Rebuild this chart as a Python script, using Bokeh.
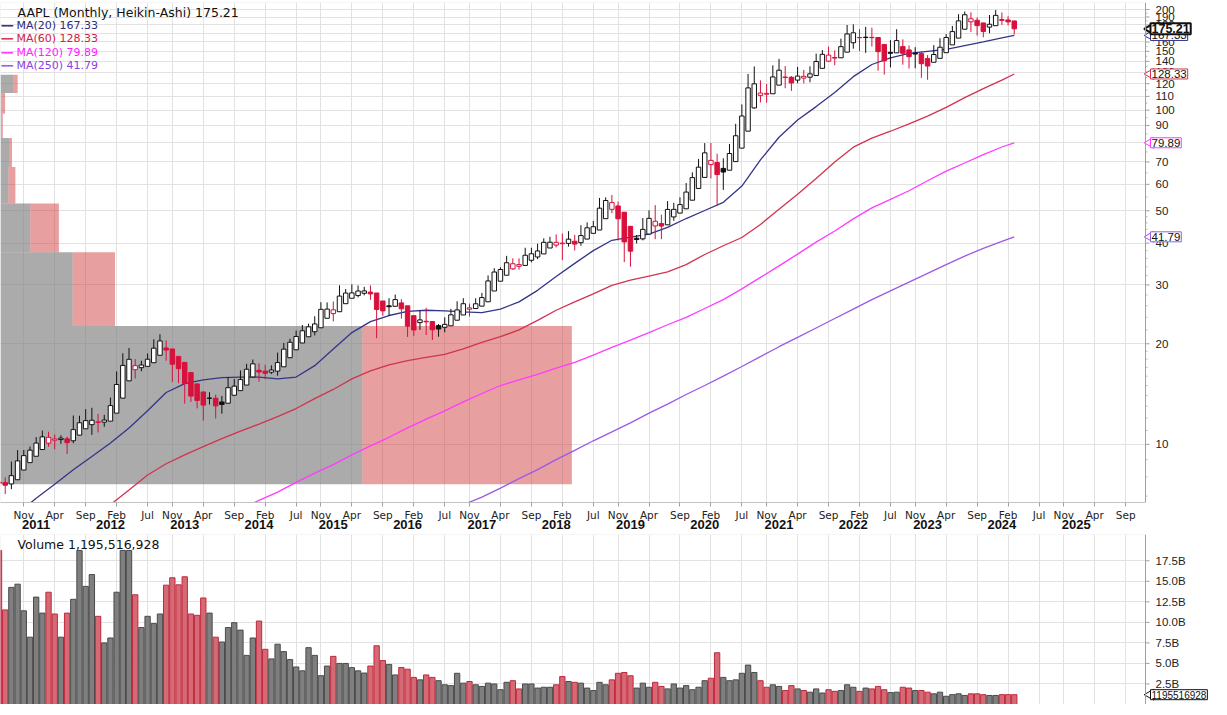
import numpy as np
import pandas as pd
from bokeh.plotting import figure
from bokeh.models import Range1d, FixedTicker, LinearAxis, Label, Span, BoxAnnotation
from bokeh.layouts import column
from bokeh.embed import file_html
from bokeh.resources import INLINE
from bokeh.core.properties import value

# ---------------- data (monthly, split-adjusted, Jul 2010 .. Mar 2024) ----------------
first_month = "2010-07"
last_month = "2024-03"

open_ = [
    9.08, 9.22, 8.84, 10.22, 10.79, 11.20,
    11.63, 12.19, 12.70, 12.54, 12.54, 12.36, 12.11, 14.21, 13.85, 13.59, 14.19, 13.66,
    14.62, 16.37, 19.58, 21.49, 20.89, 20.33, 20.88, 22.00, 23.78, 23.97, 21.25, 20.96,
    19.78, 16.40, 15.64, 15.78, 15.88, 16.11, 14.38, 16.28, 17.61, 17.09, 18.72, 19.93,
    19.85, 17.95, 18.69, 19.21, 21.14, 22.68, 23.38, 23.73, 25.72, 25.21, 27.14, 29.70,
    27.85, 29.51, 32.31, 31.21, 31.53, 32.70, 31.73, 30.38, 27.54, 27.27, 29.97, 29.69,
    25.65, 24.41, 24.41, 27.20, 23.49, 24.76, 23.87, 26.10, 26.54, 28.18, 28.37, 27.60,
    28.95, 32.00, 34.47, 35.93, 36.28, 38.29, 36.22, 37.28, 41.20, 38.54, 42.47, 42.49,
    42.54, 41.79, 44.63, 41.66, 41.60, 46.99, 45.96, 49.78, 57.10, 56.99, 54.76, 46.12,
    38.72, 41.74, 43.57, 47.91, 52.47, 43.90, 50.79, 53.47, 51.61, 56.27, 62.39, 66.82,
    74.06, 76.07, 70.57, 61.63, 71.56, 79.44, 91.28, 108.20, 132.76, 117.64, 109.11, 121.01,
    133.52, 133.75, 123.75, 123.66, 132.04, 124.28, 136.60, 146.36, 152.83, 141.90, 148.99, 167.48,
    177.83, 174.01, 164.70, 174.03, 156.71, 149.90, 136.04, 161.01, 156.64, 138.21, 155.08, 148.21,
    130.28, 143.97, 146.83, 164.27, 169.28, 177.70, 193.78, 196.24, 189.49, 171.22, 171.00, 190.33,
    187.15, 183.99, 179.55,
]
high = [
    9.46, 9.44, 10.52, 11.39, 11.39, 11.67,
    12.45, 13.03, 12.92, 12.68, 12.61, 12.49, 14.45, 14.43, 15.10, 15.24, 14.61, 14.52,
    16.36, 19.58, 22.19, 23.00, 21.31, 21.07, 22.14, 24.32, 25.18, 24.14, 21.39, 21.24,
    19.82, 17.32, 16.78, 15.86, 16.61, 16.33, 16.18, 18.31, 18.07, 19.17, 19.94, 20.54,
    20.01, 19.69, 19.61, 21.41, 22.75, 23.43, 24.79, 25.62, 25.86, 27.20, 29.85, 29.81,
    30.00, 33.40, 32.57, 33.63, 33.24, 32.91, 33.24, 30.64, 29.13, 30.31, 30.95, 29.97,
    26.46, 24.72, 27.61, 28.10, 25.18, 24.97, 26.14, 27.56, 29.05, 29.67, 28.44, 29.50,
    30.61, 34.37, 36.13, 36.37, 39.16, 38.50, 38.50, 41.24, 41.24, 42.41, 43.84, 44.30,
    45.03, 45.15, 45.88, 44.73, 47.59, 48.55, 48.99, 57.22, 57.42, 58.37, 55.59, 46.24,
    42.25, 43.97, 49.42, 52.12, 53.83, 50.39, 55.34, 54.51, 56.61, 62.44, 67.00, 73.49,
    81.96, 81.81, 76.00, 73.63, 81.06, 93.10, 106.42, 131.00, 137.98, 125.39, 121.99, 138.79,
    145.09, 137.88, 128.72, 137.07, 134.07, 137.41, 150.00, 153.49, 157.26, 153.17, 165.70, 182.13,
    182.94, 176.65, 179.61, 178.49, 166.48, 151.74, 163.63, 176.15, 164.26, 157.50, 155.45, 150.92,
    147.23, 157.38, 165.00, 169.85, 179.35, 194.48, 198.23, 196.73, 189.98, 182.34, 192.93, 199.62,
    196.38, 191.05, 180.53,
]
low = [
    8.56, 8.41, 8.70, 9.92, 10.55, 11.14,
    11.60, 12.06, 11.65, 11.44, 11.89, 11.09, 11.94, 12.61, 13.22, 12.65, 12.86, 13.37,
    14.61, 16.26, 18.44, 19.82, 18.65, 19.59, 20.36, 21.44, 23.43, 20.99, 18.06, 17.90,
    15.54, 15.63, 14.96, 13.75, 15.26, 13.86, 14.32, 16.07, 16.07, 17.03, 18.30, 19.24,
    17.63, 17.83, 18.47, 18.26, 20.72, 22.12, 23.10, 23.60, 24.45, 23.85, 26.95, 26.76,
    26.16, 29.02, 30.68, 30.66, 30.60, 31.05, 30.11, 23.00, 26.84, 26.84, 28.81, 26.21,
    23.10, 23.15, 24.12, 23.30, 22.37, 22.88, 23.59, 25.63, 25.63, 28.00, 26.02, 27.56,
    28.69, 31.75, 34.23, 35.01, 35.75, 35.55, 35.60, 37.10, 37.29, 38.12, 41.32, 41.62,
    41.17, 37.56, 41.24, 40.16, 41.32, 45.18, 45.85, 49.33, 53.83, 51.52, 42.56, 36.65,
    35.50, 41.48, 42.38, 47.10, 42.57, 42.57, 49.60, 48.15, 51.06, 53.78, 62.29, 64.07,
    73.19, 64.09, 53.15, 59.22, 71.46, 79.30, 89.14, 107.89, 103.10, 107.72, 107.32, 120.01,
    126.38, 118.39, 116.21, 122.49, 122.25, 123.13, 135.76, 144.50, 141.27, 138.27, 147.48, 157.80,
    154.70, 152.00, 150.10, 156.72, 132.61, 129.04, 135.66, 157.14, 138.00, 134.37, 134.38, 125.87,
    124.17, 141.32, 143.90, 159.78, 164.31, 176.93, 186.60, 171.96, 167.62, 165.67, 170.12, 187.45,
    180.17, 179.25, 168.49,
]
close = [
    9.19, 8.68, 10.13, 10.75, 11.11, 11.52,
    12.12, 12.61, 12.45, 12.50, 12.42, 11.99, 13.95, 13.74, 13.62, 14.46, 13.65, 14.46,
    16.30, 19.37, 21.41, 20.86, 20.63, 20.86, 21.81, 23.76, 23.83, 21.26, 20.90, 19.01,
    16.27, 15.76, 15.81, 15.81, 16.06, 14.16, 16.16, 17.40, 17.03, 18.67, 19.86, 20.04,
    17.88, 18.79, 19.17, 21.07, 22.61, 23.23, 23.90, 25.53, 25.19, 27.00, 29.73, 27.60,
    29.29, 32.12, 31.11, 31.29, 32.57, 31.36, 30.33, 28.19, 27.58, 29.88, 29.83, 26.32,
    24.34, 24.17, 27.25, 23.43, 24.97, 23.90, 26.05, 26.53, 28.26, 28.39, 27.63, 28.96,
    30.34, 34.25, 35.92, 35.91, 38.19, 36.01, 37.18, 41.00, 38.53, 42.26, 42.96, 42.31,
    41.86, 44.53, 41.95, 41.31, 46.72, 46.28, 47.57, 56.91, 56.44, 54.72, 44.65, 39.44,
    41.61, 43.29, 47.49, 50.17, 43.77, 49.48, 53.26, 52.19, 55.99, 62.19, 66.81, 73.41,
    77.38, 68.34, 63.57, 73.45, 79.49, 91.20, 106.26, 129.04, 115.81, 108.86, 119.05, 132.69,
    131.96, 121.26, 122.15, 131.46, 124.61, 136.96, 145.86, 151.83, 141.50, 149.80, 165.30, 177.57,
    174.78, 165.12, 174.61, 157.65, 148.84, 136.72, 162.51, 157.22, 138.20, 153.34, 148.03, 129.93,
    144.29, 147.41, 164.90, 169.68, 177.25, 193.97, 196.45, 187.87, 171.21, 170.77, 189.95, 192.53,
    184.40, 180.75, 172.28,
]
# monthly volume, billions of shares
volume_b = [
    18.76, 11.52, 14.26, 14.65, 11.41, 8.20,
    13.08, 11.13, 13.67, 11.02, 8.20, 11.13, 12.81, 18.76, 14.38, 15.82, 10.74, 7.50,
    8.10, 13.67, 18.76, 18.76, 13.36, 9.37, 10.74, 9.85, 11.02, 14.53, 15.43, 14.57,
    15.55, 11.02, 10.86, 12.97, 11.13, 8.20, 7.61, 9.37, 9.96, 9.06, 5.98, 8.10,
    10.16, 6.72, 5.55, 7.34, 6.44, 5.47, 4.57, 4.10, 6.92, 5.98, 3.51, 4.68,
    5.86, 5.00, 5.00, 4.49, 4.10, 3.83, 4.68, 7.15, 5.35, 4.88, 3.60, 4.50,
    4.30, 3.30, 3.00, 3.60, 3.30, 2.90, 2.40, 2.30, 3.80, 2.60, 2.80, 2.40,
    2.20, 2.60, 2.50, 1.80, 2.70, 2.90, 1.90, 2.50, 2.50, 2.00, 2.10, 2.10,
    2.40, 3.40, 2.80, 2.70, 2.60, 2.00, 1.70, 2.70, 2.40, 3.00, 3.80, 3.90,
    3.50, 2.00, 2.60, 2.10, 2.70, 2.20, 1.90, 2.50, 2.00, 2.30, 1.80, 2.10,
    2.90, 3.20, 6.30, 3.30, 2.90, 3.00, 3.80, 4.80, 3.90, 2.90, 2.10, 2.40,
    2.20, 1.70, 2.30, 1.90, 1.70, 1.50, 1.90, 1.40, 1.80, 1.60, 1.70, 2.40,
    2.10, 1.60, 2.00, 1.90, 2.20, 1.80, 1.45, 1.50, 2.10, 2.00, 1.70, 1.70,
    1.50, 1.30, 1.50, 1.00, 1.20, 1.30, 1.10, 1.30, 1.30, 1.20, 1.10, 1.10,
    1.20, 1.20, 1.195516928,
]

# quarterly dividends (split-adjusted), ex-dividend months Aug 2012 .. Feb 2024
div_months = pd.date_range("2012-08-01", "2024-02-01", freq="3MS").strftime("%Y-%m").tolist()
div_amounts = [
    0.0946, 0.0946,
    0.0946, 0.1089, 0.1089, 0.1089,
    0.1089, 0.1175, 0.1175, 0.1175,
    0.1175, 0.13, 0.13, 0.13,
    0.13, 0.1425, 0.1425, 0.1425,
    0.1425, 0.1575, 0.1575, 0.1575,
    0.1575, 0.1825, 0.1825, 0.1825,
    0.1825, 0.1925, 0.1925, 0.1925,
    0.1925, 0.205, 0.205, 0.205,
    0.205, 0.22, 0.22, 0.22,
    0.22, 0.23, 0.23, 0.23,
    0.23, 0.24, 0.24, 0.24,
    0.24,
]

# moving averages (quarterly readings + last value)
ma20_dates = pd.date_range("2010-10-01", "2024-01-01", freq="3MS").strftime("%Y-%m").tolist() + ["2024-03"]
ma20 = [6.2,
        6.9, 7.6, 8.4, 9.2,
        10.1, 11.2, 12.6, 14.3,
        15.2, 15.6, 15.85, 15.9,
        15.9, 15.7, 15.9, 17.2,
        19.3, 21.6, 23.3, 24.3,
        25.0, 25.2, 25.1, 24.9,
        24.8, 25.4, 26.7, 28.9,
        31.8, 34.8, 38.0, 40.8,
        41.7, 42.6, 44.6, 47.4,
        50.1, 53.0, 59.3, 71.0,
        83.0, 93.5, 102.5, 113.0,
        126.0, 137.0, 143.5, 148.0,
        150.0, 152.0, 156.0, 160.0,
        164.5, 167.33]
ma60_dates = pd.date_range("2011-10-01", "2024-01-01", freq="3MS").strftime("%Y-%m").tolist() + ["2024-03"]
ma60 = [6.2,
        6.6, 7.3, 8.1, 8.75,
        9.3, 9.85, 10.4, 10.95,
        11.5, 12.1, 12.8, 13.7,
        14.6, 15.7, 16.6, 17.3,
        17.8, 18.2, 18.6, 19.3,
        20.2, 21.0, 22.0, 23.5,
        25.2, 26.7, 28.2, 29.9,
        31.0, 31.9, 32.8, 34.5,
        37.0, 39.3, 41.6, 45.5,
        50.5, 56.0, 62.5, 70.0,
        77.5, 82.5, 86.5, 91.0,
        96.0, 102.0, 109.0, 116.0,
        123.0, 128.33]
ma120_dates = pd.date_range("2013-10-01", "2024-01-01", freq="3MS").strftime("%Y-%m").tolist() + ["2024-03"]
ma120 = [6.4,
         6.8, 7.2, 7.7, 8.2,
         8.7, 9.3, 9.9, 10.5,
         11.2, 11.9, 12.6, 13.4,
         14.2, 15.0, 15.6, 16.2,
         16.9, 17.6, 18.5, 19.5,
         20.5, 21.6, 22.8, 24.0,
         25.5, 27.1, 29.2, 31.6,
         34.2, 37.1, 40.3, 43.5,
         47.3, 51.0, 54.1, 57.4,
         61.5, 65.7, 69.5, 73.6,
         77.6, 79.89]
ma250_dates = pd.date_range("2016-07-01", "2024-01-01", freq="3MS").strftime("%Y-%m").tolist() + ["2024-03"]
ma250 = [6.3, 6.6,
         6.95, 7.4, 7.9, 8.4,
         9.0, 9.6, 10.25, 10.9,
         11.6, 12.4, 13.2, 14.1,
         15.0, 16.0, 17.1, 18.3,
         19.6, 20.9, 22.3, 23.8,
         25.4, 27.1, 28.8, 30.6,
         32.5, 34.5, 36.6, 38.6,
         40.5, 41.79]

# volume-by-price zones (price bounds) and relative up/down volume
vbp_low = [7.6, 22.6, 37.6, 52.6, 67.6, 82.6, 97.6, 112.6]
vbp_high = [22.6, 37.6, 52.6, 67.6, 82.6, 97.6, 112.6, 127.6]
vbp_up = [316, 63, 26, 7, 8, 1, 0.5, 11]
vbp_down = [183, 37, 25, 6, 2, 1, 3.5, 4]

month_tick_dates = ["2010-11", "2011-04", "2011-09", "2012-02", "2012-07", "2012-11", "2013-04",
                    "2013-09", "2014-02", "2014-07", "2014-11", "2015-04", "2015-09", "2016-02",
                    "2016-07", "2016-11", "2017-04", "2017-09", "2018-02", "2018-07", "2018-11",
                    "2019-04", "2019-09", "2020-02", "2020-07", "2020-11", "2021-04", "2021-09",
                    "2022-02", "2022-07", "2022-11", "2023-04", "2023-09", "2024-02", "2024-07",
                    "2024-11", "2025-04", "2025-09"]
year_labels = ["2011", "2012", "2013", "2014", "2015", "2016", "2017", "2018", "2019", "2020",
               "2021", "2022", "2023", "2024", "2025"]
price_ticks = [10, 20, 30, 40, 50, 60, 70, 80, 90, 100, 110, 120, 130, 140, 150, 160, 170, 180, 190, 200]
price_minor = [7, 8, 9, 11, 12, 13, 14, 15, 16, 17, 18, 19, 22, 24, 26, 28, 32, 34, 36, 38, 42, 44, 46,
               48, 55, 65, 75, 85, 95, 105, 115, 125, 135, 145, 155, 165, 175, 185, 195]
volume_ticks = [2.5, 5.0, 7.5, 10.0, 12.5, 15.0, 17.5]

# ---------------- derived ----------------
months = pd.period_range(first_month, last_month, freq="M")
n = len(months)
for name, arr in [("open", open_), ("high", high), ("low", low), ("close", close), ("vol", volume_b)]:
    assert len(arr) == n, (name, len(arr), n)
assert len(ma20) == len(ma20_dates) and len(ma60) == len(ma60_dates)
assert len(ma120) == len(ma120_dates) and len(ma250) == len(ma250_dates)
assert len(div_amounts) == len(div_months)


def mi(s):
    return (pd.Period(s, freq="M") - months[0]).n


xs = np.arange(n, dtype=float)
o = np.array(open_, float)
h = np.array(high, float)
l = np.array(low, float)
c = np.array(close, float)

# dividend adjustment
adj = np.ones(n)
for dm, amt in zip(div_months, div_amounts):
    d = mi(dm)
    adj[:d] *= 1.0 - amt / c[d - 1]
o, h, l, c = o * adj, h * adj, l * adj, c * adj

# Heikin-Ashi
ha_c = (o + h + l + c) / 4.0
ha_o = np.empty(n)
ha_o[0] = (o[0] + c[0]) / 2.0
for k in range(1, n):
    ha_o[k] = (ha_o[k - 1] + ha_c[k - 1]) / 2.0
ha_h = np.maximum(h, np.maximum(ha_o, ha_c))
ha_l = np.minimum(l, np.minimum(ha_o, ha_c))
up = np.r_[False, ha_c[1:] >= ha_c[:-1]]
hollow = ha_c > ha_o

RED = "#d8103c"
BLACK = "#111111"
GRID = "#e2e2e2"
FRAME = "#c4c4c4"
AXIS = "#a0a0a0"
FONT = "DejaVu Sans"
AXFONT = "Liberation Sans"
cols = np.where(up, BLACK, RED)
fills = np.where(hollow, "white", cols)

# layout geometry: the chart zone occupies CHART_W px, the price-axis zone the rest
FW = 1211
CHART_W = 1145
x_start = 0.24
chart_end = 185.2
ppu = CHART_W / (chart_end - x_start)          # pixels per month
x_end = x_start + FW / ppu
xr = Range1d(x_start, x_end)
px = 1.0 / ppu                                  # one pixel in x data units


def axis_zone(fig, ystart, yend, ticks, labels, minor=None):
    # white cover over the axis zone, axis line, tick marks and labels
    fig.quad(left=chart_end, right=x_end, bottom=ystart, top=yend, fill_color="white",
             line_color=None)
    fig.add_layout(BoxAnnotation(left=x_start, right=chart_end, fill_alpha=0,
                                 line_color=FRAME, line_width=1))
    fig.add_layout(Span(location=chart_end, dimension="height", line_color=AXIS, line_width=1))
    fig.segment(x0=[chart_end] * len(ticks), y0=ticks, x1=[chart_end + 4 * px] * len(ticks),
                y1=ticks, line_color=AXIS, line_width=1)
    if minor:
        fig.segment(x0=[chart_end] * len(minor), y0=minor, x1=[chart_end + 2 * px] * len(minor),
                    y1=minor, line_color="#bbbbbb", line_width=1)
    fig.text(x=[chart_end] * len(ticks), y=ticks, text=labels, x_offset=10,
             text_font=value(AXFONT), text_font_size="11.5px", text_color="#222222",
             text_baseline="middle", text_align="left")


def add_tag(fig, val, text, border, bold=False, size="11.5px"):
    # pointer triangle + boxed value tag on the axis
    fig.scatter(x=[chart_end + 5 * px], y=[val], marker="triangle", angle=np.pi / 2, size=11,
                fill_color="white", line_color=border, line_width=2 if bold else 1)
    fig.add_layout(Label(x=chart_end, y=val, x_offset=5, text=text, text_font=AXFONT,
                         text_font_size=size, text_font_style="bold" if bold else "normal",
                         text_color="#111111", text_baseline="middle", text_align="left",
                         border_line_color=border, border_line_width=2 if bold else 1,
                         background_fill_color="white", padding=1))


# ---------------- price panel ----------------
FH = 500
Y0, Y1 = 6.7, 210
p = figure(frame_width=FW, frame_height=FH, x_range=xr, y_range=Range1d(Y0, Y1),
           y_axis_type="log", y_axis_location=None, output_backend="svg",
           toolbar_location=None, min_border_left=0, min_border_right=0,
           min_border_top=2, min_border_bottom=0, outline_line_color=None,
           background_fill_color="white", border_fill_color="white")

p.extra_x_ranges = {"vbp": Range1d(0, 1000 * FW / CHART_W)}
vl = np.array(vbp_low)
vh = np.array(vbp_high)
vu = np.array(vbp_up, float)
vd = np.array(vbp_down, float)
p.quad(left=0, right=vu, bottom=vl, top=vh, x_range_name="vbp",
       fill_color="#808080", fill_alpha=0.66, line_color=None)
p.quad(left=vu, right=vu + vd, bottom=vl, top=vh, x_range_name="vbp",
       fill_color="#cc3333", fill_alpha=0.47, line_color=None)

ma_specs = [(ma250_dates, ma250, "#9a5ae6"), (ma120_dates, ma120, "#ff3cff"),
            (ma60_dates, ma60, "#d2334f"), (ma20_dates, ma20, "#34348a")]
for dts, vals, colr in ma_specs:
    p.line([mi(d) for d in dts], vals, line_color=colr, line_width=1.3)

p.segment(x0=xs, y0=ha_h, x1=xs, y1=ha_l, line_color=list(cols), line_width=1)
p.vbar(x=xs, top=np.maximum(ha_o, ha_c), bottom=np.minimum(ha_o, ha_c), width=0.72,
       fill_color=list(fills), line_color=list(cols), line_width=1)

month_ticks = [mi(s) for s in month_tick_dates]
month_names = {mi(s): pd.Period(s, freq="M").strftime("%b") for s in month_tick_dates}
year_ticks = [mi(y + "-01") for y in year_labels]

xa = p.xaxis[0]
xa.ticker = FixedTicker(ticks=month_ticks)
xa.bounds = (x_start, chart_end)
xa.major_label_overrides = month_names
xa.major_label_text_font = FONT
xa.major_label_text_font_size = "10.5px"
xa.major_label_text_color = "#222222"
xa.major_tick_out = 4
xa.major_tick_in = 0
xa.minor_tick_line_color = None
xa.major_label_standoff = 2
xa.axis_line_color = FRAME
xa.major_tick_line_color = AXIS
p.xgrid.ticker = FixedTicker(ticks=month_ticks)
p.xgrid.grid_line_color = GRID

ya2 = LinearAxis(ticker=FixedTicker(ticks=year_ticks),
                 major_label_overrides={t: y for t, y in zip(year_ticks, year_labels)},
                 axis_line_color=None, major_tick_line_color=None, minor_tick_line_color=None,
                 major_label_text_font=AXFONT, major_label_text_font_style="bold",
                 major_label_text_font_size="13px", major_label_text_color="#111111",
                 major_label_standoff=-10)
p.add_layout(ya2, "below")

p.ygrid.ticker = FixedTicker(ticks=price_ticks)
p.ygrid.grid_line_color = GRID
axis_zone(p, Y0, Y1, price_ticks, [str(t) for t in price_ticks], price_minor)

title_txt = f"AAPL (Monthly, Heikin-Ashi) {ha_c[-1]:.2f}"
p.add_layout(Label(x=17, y=FH - 10, x_units="screen", y_units="screen", text=title_txt,
                   text_font=FONT, text_font_size="12.5px", text_color="#111111",
                   text_baseline="middle"))
legend_rows = [("MA(20)", ma20[-1], "#34348a", "#2b2b80"),
               ("MA(60)", ma60[-1], "#d2334f", "#cc2244"),
               ("MA(120)", ma120[-1], "#ff3cff", "#ff22ff"),
               ("MA(250)", ma250[-1], "#9a5ae6", "#8844dd")]
for k, (nm, val, lc, tc) in enumerate(legend_rows):
    yy = FH - 23 - 13.3 * k
    p.add_layout(Label(x=1, y=yy, x_units="screen", y_units="screen", text="━━",
                       text_font=FONT, text_font_size="9.5px", text_color=lc,
                       text_baseline="middle"))
    p.add_layout(Label(x=16, y=yy, x_units="screen", y_units="screen", text=f"{nm} {val:.2f}",
                       text_font=FONT, text_font_size="11px", text_color=tc,
                       text_baseline="middle"))

# value tags on the price axis
for val, bc, bold in [(ma250[-1], "#9a5ae6", False), (ma120[-1], "#ff3cff", False),
                      (ma60[-1], "#d2334f", False), (ma20[-1], "#34348a", False),
                      (ha_c[-1], "#111111", True)]:
    add_tag(p, val, f"{val:.2f}", bc, bold, "12.5px" if bold else "11.5px")

# ---------------- volume panel ----------------
vol = np.array(volume_b)
VFH = 170
V0, V1 = 0, 20.7
v = figure(frame_width=FW, frame_height=VFH, x_range=xr, y_range=Range1d(V0, V1),
           x_axis_location=None, y_axis_location=None, output_backend="svg",
           toolbar_location=None, min_border_left=0, min_border_right=0,
           min_border_top=3, min_border_bottom=0, outline_line_color=None,
           background_fill_color="white", border_fill_color="white")
v.xgrid.ticker = FixedTicker(ticks=month_ticks)
v.xgrid.grid_line_color = GRID
v.ygrid.ticker = FixedTicker(ticks=volume_ticks)
v.ygrid.grid_line_color = GRID
vfill = np.where(up, "#7f7f7f", "#d66a74")
vline = np.where(up, "#4a4a4a", "#c0283f")
v.vbar(x=xs, top=vol, bottom=0, width=0.86, fill_color=list(vfill), line_color=list(vline),
       line_width=1)
axis_zone(v, V0, V1, volume_ticks, [f"{t:.1f}B" for t in volume_ticks])

v.add_layout(Label(x=17, y=VFH - 10, x_units="screen", y_units="screen",
                   text=f"Volume {int(round(vol[-1] * 1e9)):,}", text_font=FONT,
                   text_font_size="12.5px", text_color="#111111", text_baseline="middle"))
add_tag(v, vol[-1], f"{int(round(vol[-1] * 1e9))}", "#111111", False, "10px")

layout = column(p, v)
open("out.html", "w").write(file_html(layout, INLINE, title="AAPL Monthly Heikin-Ashi"))
